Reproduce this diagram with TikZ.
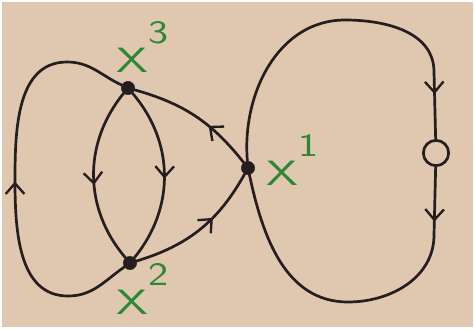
\documentclass[tikz,border=0pt]{standalone}
\usepackage{tikz}
\usetikzlibrary{
  arrows.meta,
  decorations.markings
}
\definecolor{papercolor}{RGB}{224, 199, 176}
\definecolor{inkcolor}{RGB}{38, 30, 30}
\definecolor{labelcolor}{RGB}{45, 135, 55}
\newcommand{\handX}{\scalebox{1.45}[1]{X}}
\newcommand{\handsup}[1]{\raisebox{0.8em}{\scalebox{1.3}[1]{\fontsize{28}{28}\selectfont #1}}}
\tikzset{
vertex/.style={
  circle,
  fill=inkcolor,
  draw=inkcolor,
  inner sep=0pt,
  minimum size=4.0mm
},
openvertex/.style={
  circle,
  draw=inkcolor,
  line width=2.3pt,
  inner sep=0pt,
  minimum size=7.6mm
},
edge/.style={
  draw=inkcolor,
  line width=2.3pt,
  line cap=round
},
midarrow/.style={
  postaction={decorate},
  decoration={
    markings,
    mark=at position #1 with {\arrow{Straight Barb[length=3.2mm,width=5.6mm,line width=2pt]}}
  }
},
vlabel/.style={
  font=\fontsize{30}{30}\selectfont\sffamily,
  text=labelcolor,
  inner sep=0pt
}
}

\begin{document}
\begin{tikzpicture}[x=0.03cm, y=-0.03cm]
    % Paper
    \fill[white] (0,0) rectangle (475,329);
    \fill[papercolor] (2,2) rectangle (473,327);
    \useasboundingbox (0,0) rectangle (475,329);

    % Vertices
    \node[vertex] (x3) at (128,88) {};
    \node[vertex] (x2) at (130,263) {};
    \node[vertex] (x1) at (248,168) {};
    \node[openvertex] (o) at (436,153) {};

    % Labels
    \node[vlabel, anchor=base west] (l3) at (116,72) {\handX\handsup{3}};
    \node[vlabel, anchor=base west] (l2) at (116,314) {\handX\handsup{2}};
    \node[vlabel, anchor=base west] (l1) at (266,185) {\handX\handsup{1}};

    % Left loop
    \draw[edge, midarrow=0.5]
      (x2) to[out=215,in=0] (68,296) to[out=180,in=-90] (15,180)
      to[out=90,in=180] (67,62) to[out=0,in=155] (x3);

    % Inner arcs
    \draw[edge, midarrow=0.55] (x3) to[bend right=40] (x2);
    \draw[edge, midarrow=0.52] (x3) to[bend left=40] (x2);

    % Triangle sides
    \draw[edge, midarrow=0.62] (x2) to[bend right=22] (x1);
    \draw[edge, midarrow=0.38] (x1) to[bend right=18] (x3);

    % Right loop
    \draw[edge, midarrow=0.88]
      (x1) to[out=95,in=180] (345,20) to[out=0,in=90] (434,72) -- (o);
    \draw[edge, midarrow=0.15]
      (o) -- (434,235) to[out=-90,in=0] (348,302) to[out=180,in=-78] (x1);
\end{tikzpicture}
\end{document}
